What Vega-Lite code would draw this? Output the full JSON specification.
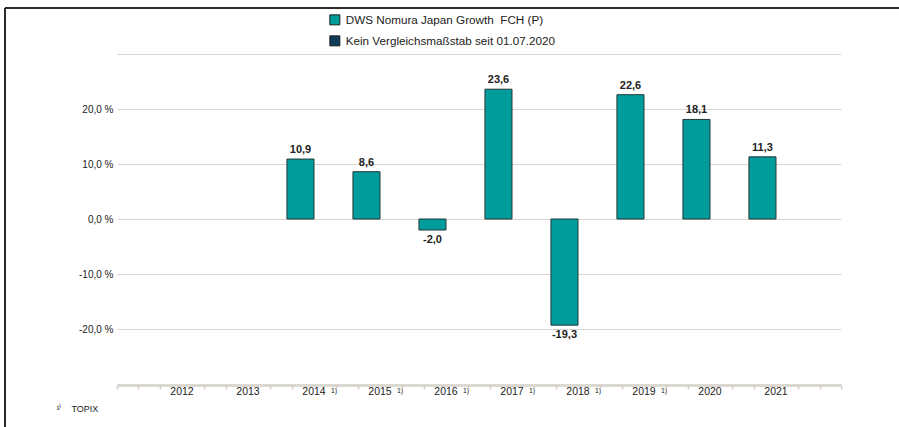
{
  "$schema": "https://vega.github.io/schema/vega-lite/v6.json",
  "autosize": "none",
  "padding": {"left": 5, "top": 8, "right": 0, "bottom": 0},
  "width": 894,
  "height": 419,
  "background": "white",
  "view": {"stroke": "#2b2b2b", "strokeWidth": 2, "strokeDash": [894, 1313, 419, 0]},
  "config": {
    "font": "Liberation Sans",
    "locale": {"number": {"decimal": ",", "thousands": ".", "grouping": [3], "currency": ["", " €"], "minus": "-"}},
    "axisX": {"offset": -42, "grid": false, "title": null}
  },
  "resolve": {"axis": {"x": "independent"}},
  "data": {"values": [
    {"year": "2014", "series": "DWS Nomura Japan Growth\u00a0 FCH (P)", "value": 10.9},
    {"year": "2015", "series": "DWS Nomura Japan Growth\u00a0 FCH (P)", "value": 8.6},
    {"year": "2016", "series": "DWS Nomura Japan Growth\u00a0 FCH (P)", "value": -2.0},
    {"year": "2017", "series": "DWS Nomura Japan Growth\u00a0 FCH (P)", "value": 23.6},
    {"year": "2018", "series": "DWS Nomura Japan Growth\u00a0 FCH (P)", "value": -19.3},
    {"year": "2019", "series": "DWS Nomura Japan Growth\u00a0 FCH (P)", "value": 22.6},
    {"year": "2020", "series": "DWS Nomura Japan Growth\u00a0 FCH (P)", "value": 18.1},
    {"year": "2021", "series": "DWS Nomura Japan Growth\u00a0 FCH (P)", "value": 11.3}
  ]},
  "encoding": {
    "xOffset": {
      "field": "series",
      "type": "nominal",
      "scale": {
        "domain": ["DWS Nomura Japan Growth\u00a0 FCH (P)", "Kein Vergleichsmaßstab seit 01.07.2020"],
        "paddingInner": 0,
        "paddingOuter": 0
      }
    },
    "y": {
      "field": "value",
      "type": "quantitative",
      "scale": {"domain": [-30, 30], "nice": false, "range": [376, 46]},
      "axis": {
        "title": null,
        "values": [-30, -20, -10, 0, 10, 20, 30],
        "labelExpr": "abs(datum.value) == 30 ? '' : replace(replace(format(datum.value, '.1f'), '.', ','), '−', '-') + ' %'",
        "domain": false,
        "ticks": false,
        "offset": -112,
        "labelPadding": 4,
        "labelFontSize": 10,
        "labelColor": "#222222",
        "gridColor": "#d8d5cf",
        "gridWidth": 1
      }
    }
  },
  "layer": [
    {
      "mark": {"type": "bar", "stroke": "#243838", "strokeWidth": 1},
      "encoding": {
        "x": {
          "field": "year",
          "type": "nominal",
          "scale": {
            "domain": ["2012", "2013", "2014", "2015", "2016", "2017", "2018", "2019", "2020", "2021"],
            "range": [112, 836],
            "paddingInner": 0.18,
            "paddingOuter": 0.575
          },
          "axis": {
            "orient": "bottom",
            "title": "¹⁾\u00a0\u00a0\u00a0\u00a0TOPIX",
            "titleX": 51,
            "titleY": 23,
            "titleAlign": "left",
            "titleBaseline": "middle",
            "titleFontSize": 9,
            "titleFontWeight": "normal",
            "titleColor": "#222222",
            "labelAngle": 0,
            "domainColor": "#dcd9d2",
            "domainWidth": 3,
            "ticks": false,
            "labelPadding": 1,
            "labelFontSize": 10.5,
            "labelColor": "#222222"
          }
        },
        "color": {
          "field": "series",
          "type": "nominal",
          "scale": {
            "domain": ["DWS Nomura Japan Growth\u00a0 FCH (P)", "Kein Vergleichsmaßstab seit 01.07.2020"],
            "range": ["#009b9b", "#0d3b5a"]
          },
          "legend": {
            "title": null,
            "orient": "none",
            "legendX": 324,
            "legendY": 6,
            "symbolType": "square",
            "symbolSize": 100,
            "symbolStrokeColor": "#1d1d1d",
            "symbolStrokeWidth": 1,
            "symbolOpacity": 1,
            "labelFontSize": 11.7,
            "labelColor": "#222222",
            "labelOffset": 5,
            "labelLimit": 400,
            "rowPadding": 6,
            "padding": 0
          }
        }
      }
    },
    {
      "transform": [{"filter": "datum.value >= 0"}],
      "mark": {"type": "text", "baseline": "alphabetic", "dy": -6, "fontWeight": "bold", "fontSize": 11, "color": "#222222"},
      "encoding": {
        "x": {"field": "year", "type": "nominal", "axis": null},
        "text": {"field": "value", "type": "quantitative", "format": ".1f"}
      }
    },
    {
      "transform": [{"filter": "datum.value < 0"}],
      "mark": {"type": "text", "baseline": "top", "dy": 4, "fontWeight": "bold", "fontSize": 11, "color": "#222222"},
      "encoding": {
        "x": {"field": "year", "type": "nominal", "axis": null},
        "text": {"field": "value", "type": "quantitative", "format": ".1f"}
      }
    },
    {
      "transform": [{"filter": "false"}],
      "mark": {"type": "point"},
      "encoding": {
        "x": {"field": "year", "type": "nominal", "axis": {
          "orient": "bottom", "domain": false, "ticks": false, "labelAngle": 0, "labelPadding": 1, "labelFontSize": 7, "labelColor": "#222222", "labelOffset": 20,
          "labelExpr": "indexof(['2014','2015','2016','2017','2018','2019'], datum.label) >= 0 ? '1)' : ''"
        }}
      }
    },
    {
      "transform": [{"filter": "false"}],
      "mark": {"type": "point"},
      "encoding": {
        "x": {"field": "year", "type": "nominal", "axis": {"orient": "bottom", "domain": false, "labels": false, "ticks": true, "tickOffset": -22, "tickSize": 4, "tickWidth": 1.5, "tickColor": "#d3cfc7"}}
      }
    },
    {
      "transform": [{"filter": "false"}],
      "mark": {"type": "point"},
      "encoding": {
        "x": {"field": "year", "type": "nominal", "axis": {"orient": "bottom", "domain": false, "labels": false, "ticks": true, "tickOffset": 22, "tickSize": 4, "tickWidth": 1.5, "tickColor": "#d3cfc7"}}
      }
    },
    {
      "transform": [{"filter": "false"}],
      "mark": {"type": "point"},
      "encoding": {
        "x": {"field": "year", "type": "nominal", "axis": {"orient": "bottom", "domain": false, "labels": false, "ticks": true, "values": ["2012"], "tickOffset": -44, "tickSize": 4, "tickWidth": 1.5, "tickColor": "#d3cfc7"}}
      }
    },
    {
      "transform": [{"filter": "false"}],
      "mark": {"type": "point"},
      "encoding": {
        "x": {"field": "year", "type": "nominal", "axis": {"orient": "bottom", "domain": false, "labels": false, "ticks": true, "values": ["2021"], "tickOffset": 44, "tickSize": 4, "tickWidth": 1.5, "tickColor": "#d3cfc7"}}
      }
    },
    {
      "transform": [{"filter": "false"}],
      "mark": {"type": "point"},
      "encoding": {
        "x": {"field": "year", "type": "nominal", "axis": {"orient": "bottom", "domain": false, "labels": false, "ticks": true, "values": ["2012"], "tickOffset": -65, "tickSize": 4, "tickWidth": 1.5, "tickColor": "#d3cfc7"}}
      }
    },
    {
      "transform": [{"filter": "false"}],
      "mark": {"type": "point"},
      "encoding": {
        "x": {"field": "year", "type": "nominal", "axis": {"orient": "bottom", "domain": false, "labels": false, "ticks": true, "values": ["2021"], "tickOffset": 65, "tickSize": 4, "tickWidth": 1.5, "tickColor": "#d3cfc7"}}
      }
    }
  ]
}
